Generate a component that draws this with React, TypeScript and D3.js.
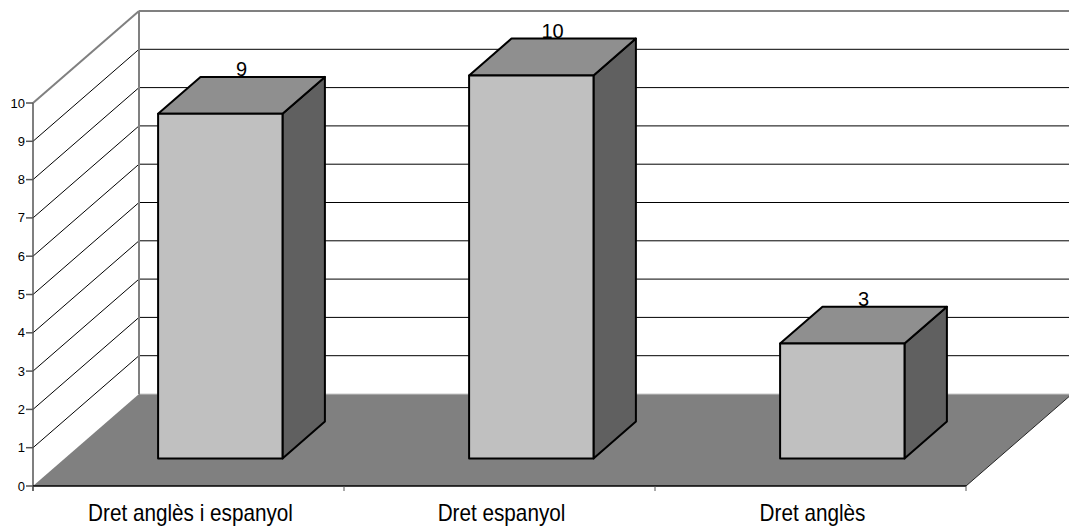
import React from "react";
import * as d3 from "d3";

// Chart data
const categories: string[] = ["Dret anglès i espanyol", "Dret espanyol", "Dret anglès"];
const values: number[] = [9, 10, 3];
const yTicks: number[] = [0, 1, 2, 3, 4, 5, 6, 7, 8, 9, 10];

const W = 1069;
const H = 528;

// Front plane of the 3D box and the depth offset of the back wall
const X0 = 33;
const X1 = 966;
const Y0 = 486;
const Y10 = 103;
const DX = 106;
const DY = -92;

// Bars sit between these depth fractions
const D0 = 0.3;
const D1 = 0.7;

const FONT = "'Liberation Sans', Arial, Helvetica, sans-serif";

export default function App() {
  const x = d3.scaleBand<string>().domain(categories).range([X0, X1]).paddingInner(0).paddingOuter(0);
  const y = d3.scaleLinear().domain([0, 10]).range([Y0, Y10]);

  const proj = (px: number, py: number, d: number): [number, number] => [px + d * DX, py + d * DY];
  const pts = (arr: [number, number][]) => arr.map((p) => p.join(",")).join(" ");

  const floor = pts([
    proj(X0, Y0, 0),
    proj(X1, Y0, 0),
    proj(X1, Y0, 1),
    proj(X0, Y0, 1),
  ]);

  const bw = x.bandwidth();
  const barFrac = 0.4;

  return (
    <svg
      width={W}
      height={H}
      style={{ position: "absolute", left: 0, top: 0, background: "#fff" }}
      fontFamily={FONT}
    >
      {/* back wall gridlines */}
      {yTicks.slice(1, -1).map((t) => {
        const [bx, by] = proj(X0, y(t), 1);
        return <line key={"bg" + t} x1={bx} y1={by} x2={X1 + DX} y2={by} stroke="#000" strokeWidth={1} />;
      })}
      {/* side wall gridlines */}
      {yTicks.slice(1, -1).map((t) => {
        const [bx, by] = proj(X0, y(t), 1);
        return <line key={"sg" + t} x1={X0} y1={y(t)} x2={bx} y2={by} stroke="#000" strokeWidth={1} />;
      })}
      {/* wall outline */}
      {(() => {
        const [tx, ty] = proj(X0, y(10), 1);
        const [, fy] = proj(X0, Y0, 1);
        return (
          <g stroke="#808080" strokeWidth={2} fill="none">
            <line x1={X0} y1={y(10)} x2={tx} y2={ty} />
            <line x1={tx} y1={ty} x2={X1 + DX} y2={ty} />
            <line x1={tx} y1={ty} x2={tx} y2={fy} />
          </g>
        );
      })()}

      {/* floor */}
      <polygon points={floor} fill="#808080" />
      {(() => {
        const [bx1, by1] = proj(X0, Y0, 1);
        const [bx2, by2] = proj(X1, Y0, 1);
        return (
          <g>
            <line x1={bx1 + 1} y1={by1} x2={bx2} y2={by2} stroke="#c8c8c8" strokeWidth={1} />
            <line x1={X1} y1={Y0} x2={bx2} y2={by2} stroke="#222" strokeWidth={1} />
          </g>
        );
      })()}

      {/* y axis */}
      <line x1={X0} y1={y(10)} x2={X0} y2={Y0 + 5} stroke="#555" strokeWidth={1.5} />
      {yTicks.map((t) => (
        <g key={"yt" + t}>
          <line x1={X0 - 7} y1={y(t)} x2={X0} y2={y(t)} stroke="#555" strokeWidth={1.5} />
          <text x={X0 - 8} y={y(t)} dy="0.35em" textAnchor="end" fontSize={13} fill="#000">
            {t}
          </text>
        </g>
      ))}

      {/* x axis */}
      <line x1={X0} y1={Y0} x2={X1} y2={Y0} stroke="#000" strokeWidth={1.5} />
      {[...categories.map((c) => x(c) as number), X1].map((px, i) => (
        <line key={"xt" + i} x1={px} y1={Y0} x2={px} y2={Y0 + 5} stroke="#555" strokeWidth={1} />
      ))}
      {categories.map((c) => (
        <text
          key={"xl" + c}
          transform={`translate(${(x(c) as number) + bw / 2 + 2},521) scale(0.9,1)`}
          textAnchor="middle"
          fontSize={23}
          fill="#000"
        >
          {c}
        </text>
      ))}

      {/* bars */}
      {categories.map((c, i) => {
        const v = values[i];
        const left = (x(c) as number) + bw * (0.5 - barFrac / 2);
        const right = left + bw * barFrac;
        const top = y(v);
        const fTL = proj(left, top, D0);
        const fTR = proj(right, top, D0);
        const fBL = proj(left, Y0, D0);
        const fBR = proj(right, Y0, D0);
        const bTL = proj(left, top, D1);
        const bTR = proj(right, top, D1);
        const bBR = proj(right, Y0, D1);
        const labelX = (left + right) / 2 + ((D0 + D1) / 2) * DX;
        return (
          <g key={"bar" + c} stroke="#000" strokeWidth={2} strokeLinejoin="round">
            <polygon points={pts([fTR, bTR, bBR, fBR])} fill="#606060" />
            <polygon points={pts([fTL, bTL, bTR, fTR])} fill="#8f8f8f" />
            <polygon points={pts([fTL, fTR, fBR, fBL])} fill="#c0c0c0" />
            <text
              x={labelX}
              y={bTL[1] - 0.5}
              textAnchor="middle"
              fontSize={20}
              fill="#000"
              stroke="none"
            >
              {v}
            </text>
          </g>
        );
      })}
    </svg>
  );
}
